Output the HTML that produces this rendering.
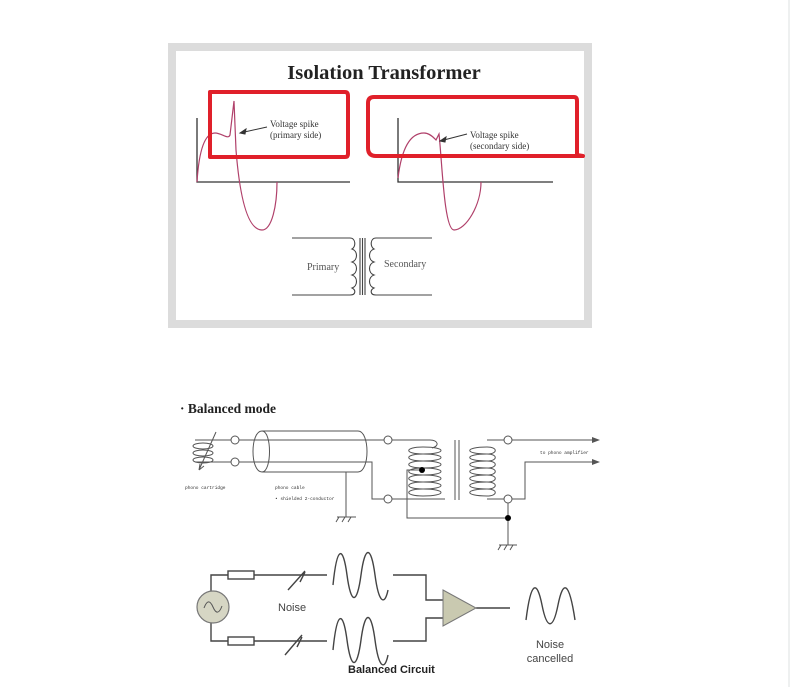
<!DOCTYPE html>
<html><head><meta charset="utf-8"><style>
html,body{margin:0;padding:0;background:#fff;width:790px;height:687px;overflow:hidden}
svg{display:block}
</style></head><body>
<svg width="790" height="687" viewBox="0 0 790 687" xmlns="http://www.w3.org/2000/svg">
<rect x="788" y="0" width="2" height="687" fill="#eef0f0"/>
<!-- top panel -->
<rect x="172" y="47" width="416" height="277" fill="#fff" stroke="#dcdcdc" stroke-width="8"/>
<text x="384" y="79" text-anchor="middle" font-family="Liberation Serif, serif" font-weight="bold" font-size="20.5" fill="#222">Isolation Transformer</text>
<g stroke="#333" stroke-width="1.3" fill="none">
<path d="M197 118V182H350"/>
<path d="M398 118V182H553"/>
</g>
<g stroke="#b0406a" stroke-width="1.2" fill="none">
<path d="M197 182C199 150 205 133 215 133C222 133 228 140 230 135L234 101L236 150C240 200 248 230 262 230C272 230 277 205 277 182"/>
<path d="M398 178C402 145 412 133 424 133C430 133 434 138 436 140L439 134C442 160 444 230 454 230C466 230 481 205 481 182"/>
</g>
<g stroke="#e0202a" stroke-width="4" fill="none" stroke-linejoin="round">
<path d="M210 92H345Q348 92 348 96V154Q348 157 345 157H210Z"/>
<path d="M374 97H574Q577 97 577 101V155L583 156H376Q368 156 368 148V103Q368 97 374 97Z"/>
</g>
<g stroke="#333" stroke-width="1" fill="none">
<path d="M240 133L267 127"/><path d="M240 133l6 -4l-1 5z" fill="#333"/>
<path d="M440 141L467 134"/><path d="M440 141l6 -4l-1 5z" fill="#333"/>
</g>
<g font-family="Liberation Serif, serif" font-size="9" fill="#333">
<text x="270" y="127">Voltage spike</text><text x="270" y="138">(primary side)</text>
<text x="470" y="138">Voltage spike</text><text x="470" y="149">(secondary side)</text>
</g>
<g stroke="#444" stroke-width="1.1" fill="none">
<path d="M292 238H350C356 238 356 247 352 249C358 251 358 260 352 262C358 264 358 273 352 275C358 277 358 286 352 288C356 290 356 295 350 295H292"/>
<path d="M360 238V295M362.5 238V295M365 238V295"/>
<path d="M432 238H376C370 238 370 247 374 249C368 251 368 260 374 262C368 264 368 273 374 275C368 277 368 286 374 288C370 290 370 295 376 295H432"/>
</g>
<text x="307" y="270" font-family="Liberation Serif, serif" font-size="10" fill="#555">Primary</text>
<text x="384" y="267" font-family="Liberation Serif, serif" font-size="10" fill="#555">Secondary</text>
<!-- Balanced mode -->
<text x="180" y="413" font-family="Liberation Serif, serif" font-weight="bold" font-size="13.5" fill="#222">· Balanced mode</text>
<g stroke="#555" stroke-width="1" fill="none">
<path d="M195 440H231M239 440H384M392 440H430C438 440 440 446 432 448"/>
<path d="M195 462H231M239 462H372V499H384"/>
<ellipse cx="203" cy="446" rx="10" ry="3"/><ellipse cx="203" cy="453" rx="10" ry="3"/><ellipse cx="203" cy="460" rx="10" ry="3"/>
<path d="M216 432L199 470M199 470l1 -6M199 470l5 -4"/>
<path d="M262 431H358C370 431 370 472 358 472H262C250 472 250 431 262 431Z"/>
<path d="M262 431C272 431 272 472 262 472"/>
<path d="M346 472V517M337 517H356M339 517l-3 5M345 517l-3 5M351 517l-3 5"/>
<path d="M392 499H445"/>
<path d="M423 447C404 447 404 454 423 454C404 454 404 461 423 461C404 461 404 468 423 468C404 468 404 475 423 475C404 475 404 482 423 482C404 482 404 489 423 489C404 489 404 496 423 496"/>
<path d="M423 447C447 447 447 454 423 454M423 454C447 454 447 461 423 461M423 461C447 461 447 468 423 468M423 468C447 468 447 475 423 475M423 475C447 475 447 482 423 482M423 482C447 482 447 489 423 489M423 489C447 489 447 496 423 496"/>
<path d="M455 440V500M459 440V500"/>
<path d="M487 447C464 447 464 454 487 454C464 454 464 461 487 461C464 461 464 468 487 468C464 468 464 475 487 475C464 475 464 482 487 482C464 482 464 489 487 489C464 489 464 496 487 496"/>
<path d="M487 447C498 447 498 454 487 454M487 454C498 454 498 461 487 461M487 461C498 461 498 468 487 468M487 468C498 468 498 475 487 475M487 475C498 475 498 482 487 482M487 482C498 482 498 489 487 489M487 489C498 489 498 496 487 496"/>
<path d="M487 440H504M512 440H592M487 499H504M512 499H525V462H592"/>
<path d="M422 470H407V518H508V503M508 518V545M499 545H517M501 545l-3 5M507 545l-3 5M513 545l-3 5"/>
<circle cx="235" cy="440" r="4" fill="#fff"/><circle cx="235" cy="462" r="4" fill="#fff"/>
<circle cx="388" cy="440" r="4" fill="#fff"/><circle cx="388" cy="499" r="4" fill="#fff"/>
<circle cx="508" cy="440" r="4" fill="#fff"/><circle cx="508" cy="499" r="4" fill="#fff"/>
</g>
<path d="M592 437L600 440L592 443Z M592 459L600 462L592 465Z" fill="#555"/>
<circle cx="422" cy="470" r="3" fill="#000"/><circle cx="508" cy="518" r="3" fill="#000"/>
<g font-family="Liberation Mono, monospace" font-size="4.5" fill="#333">
<text x="185" y="489">phono cartridge</text>
<text x="275" y="489">phono cable</text>
<text x="275" y="500">• shielded 2-conductor</text>
<text x="540" y="454">to phono amplifier</text>
</g>
<!-- balanced circuit -->
<g stroke="#444" stroke-width="1.4" fill="none">
<path d="M211 591V575H228M254 575H327M211 623V641H228M254 641H327"/>
<rect x="228" y="571" width="26" height="8"/><rect x="228" y="637" width="26" height="8"/>
<path d="M288 590L305 571M300 582l5 -10M285 655L302 635M297 647l5 -10"/>
<path d="M393 575H426V600H443M393 641H426V618H443M476 608H510"/>
<path d="M333 585C337 545 343 545 347 575C351 605 357 605 361 575C365 545 371 545 375 575C379 605 385 605 388 590"/>
<path d="M333 650C337 610 343 610 347 640C351 670 357 670 361 640C365 610 371 610 375 640C379 670 385 670 388 655"/>
<path d="M526 620C531 580 537 580 542 605C547 630 553 630 558 605C563 580 569 580 575 620"/>
</g>
<circle cx="213" cy="607" r="16" fill="#d6d6c4" stroke="#777" stroke-width="1.2"/>
<path d="M204 608C207 600 210 600 213 607C216 614 219 614 222 606" stroke="#555" fill="none"/>
<path d="M443 590L476 608L443 626Z" fill="#c9c9b0" stroke="#777"/>
<text x="278" y="611" font-family="Liberation Sans, sans-serif" font-size="11" fill="#444">Noise</text>
<text x="550" y="648" text-anchor="middle" font-family="Liberation Sans, sans-serif" font-size="11" fill="#444">Noise</text>
<text x="550" y="662" text-anchor="middle" font-family="Liberation Sans, sans-serif" font-size="11" fill="#444">cancelled</text>
<text x="348" y="673" font-family="Liberation Sans, sans-serif" font-weight="bold" font-size="11" fill="#222">Balanced Circuit</text>
</svg>
</body></html>
